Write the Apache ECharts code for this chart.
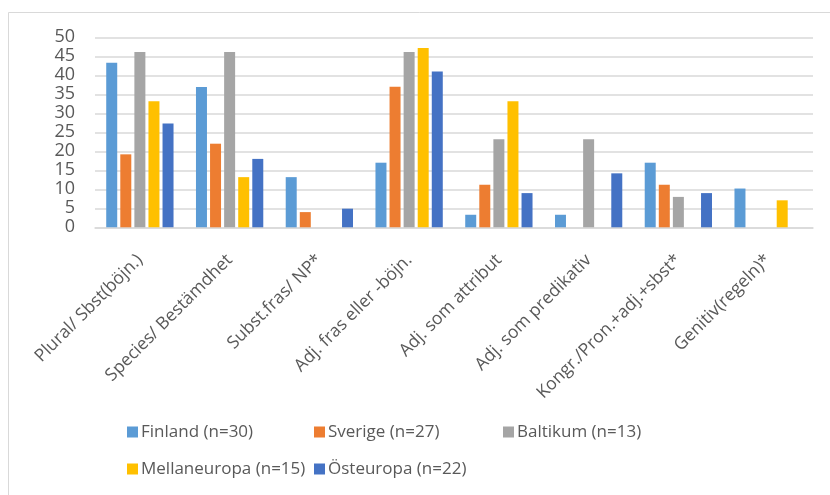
<!DOCTYPE html>
<html>
<head>
<meta charset="utf-8">
<script src="https://cdn.jsdelivr.net/npm/echarts@6/dist/echarts.min.js"></script>
<style>
  html, body { margin: 0; padding: 0; background: #fff; }
  #chart { width: 830px; height: 495px; }
</style>
</head>
<body>
<div id="chart"></div>
<script>
// Categories along the x axis
const categories = [
  'Plural/ Sbst(böjn.)',
  'Species/ Bestämdhet',
  'Subst.fras/ NP*',
  'Adj. fras eller -böjn.',
  'Adj. som attribut',
  'Adj. som predikativ',
  'Kongr./Pron.+adj.+sbst*',
  'Genitiv(regeln)*'
];

// Series names (legend labels)
const seriesNames = [
  'Finland (n=30)',
  'Sverige (n=27)',
  'Baltikum (n=13)',
  'Mellaneuropa (n=15)',
  'Östeuropa (n=22)'
];

// Values per group (percent)
const finland      = [43.3, 36.9, 13.2, 17.0, 3.3, 3.3, 17.0, 10.2];
const sverige      = [19.2, 22.0, 4.0, 37.0, 11.2, 0, 11.2, 0];
const baltikum     = [46.1, 46.1, 0, 46.1, 23.2, 23.2, 8.0, 0];
const mellaneuropa = [33.2, 13.2, 0, 47.2, 33.2, 0, 0, 7.1];
const osteuropa    = [27.3, 18.0, 4.9, 41.0, 9.0, 14.2, 9.0, 0];

// Y axis ticks
const yMin = 0, yMax = 50, yStep = 5;

const seriesData = [finland, sverige, baltikum, mellaneuropa, osteuropa];
const colors = ['#5B9BD5', '#ED7D31', '#A5A5A5', '#FFC000', '#4472C4'];

const FONT = 'Open Sans';
const TEXT = '#595959';

// Legend laid out on a fixed two-row grid
const legendSlots = [
  { left: 127, top: 423 },
  { left: 314, top: 423 },
  { left: 503, top: 423 },
  { left: 127, top: 460 },
  { left: 314, top: 460 }
];

const chart = echarts.init(document.getElementById('chart'), null, { renderer: 'canvas' });

chart.setOption({
  animation: false,
  backgroundColor: '#ffffff',
  color: colors,
  graphic: [{
    type: 'rect',
    shape: { x: 8.5, y: 12.5, width: 840, height: 520 },
    style: { fill: 'none', stroke: '#d9d9d9', lineWidth: 1 },
    silent: true
  }],
  grid: { left: 95, right: 17, top: 37.3, bottom: 267.7, containLabel: false },
  legend: legendSlots.map((s, i) => ({
    data: [seriesNames[i]],
    left: s.left,
    top: s.top,
    padding: 0,
    itemWidth: 11,
    itemHeight: 11,
    icon: 'rect',
    textStyle: { fontFamily: FONT, fontSize: 17, color: TEXT, lineHeight: 18, padding: [0, 0, 0, -2] }
  })),
  xAxis: {
    type: 'category',
    data: categories,
    axisTick: { show: false },
    axisLine: { show: true, lineStyle: { color: '#d9d9d9', width: 1.5 } },
    axisLabel: {
      rotate: 45,
      margin: 30,
      interval: 0,
      fontFamily: FONT,
      fontSize: 17.5,
      color: TEXT
    }
  },
  yAxis: {
    type: 'value',
    min: yMin,
    max: yMax,
    interval: yStep,
    axisLine: { show: false },
    axisTick: { show: false },
    splitLine: { lineStyle: { color: '#d9d9d9', width: 1.5 } },
    axisLabel: { margin: 20, fontFamily: FONT, fontSize: 18, color: TEXT }
  },
  series: seriesNames.map((name, i) => ({
    name,
    type: 'bar',
    data: seriesData[i],
    barGap: '28%',
    barCategoryGap: '25%',
    itemStyle: { color: colors[i] }
  }))
});
</script>
</body>
</html>
